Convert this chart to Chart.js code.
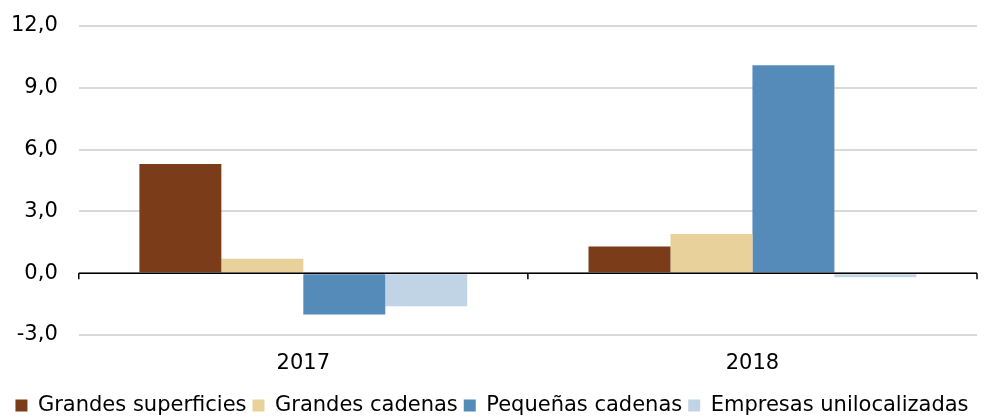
<!DOCTYPE html>
<html>
<head>
<meta charset="utf-8">
<script src="https://cdn.jsdelivr.net/npm/chart.js@4"></script>
<style>
  html, body { margin: 0; padding: 0; background: #fff; }
  #wrap { width: 991px; height: 416px; position: relative; }
</style>
</head>
<body>
<div id="wrap"><canvas id="chart"></canvas></div>
<script>
var years = ["2017", "2018"];
var grandesSuperficies = [5.3, 1.3];
var grandesCadenas = [0.7, 1.9];
var pequenasCadenas = [-2.0, 10.1];
var empresasUnilocalizadas = [-1.6, -0.2];
var yTicks = [-3, 0, 3, 6, 9, 12];

var fontFamily = "'DejaVu Sans', Verdana, sans-serif";

// x axis line drawn at zero, with tick marks between the categories
var zeroAxis = {
  id: "zeroAxis",
  afterDatasetsDraw: function (chart) {
    var ctx = chart.ctx;
    var y0 = chart.scales.y.getPixelForValue(0);
    var area = chart.chartArea;
    ctx.save();
    ctx.strokeStyle = "#000";
    ctx.lineWidth = 1.5;
    ctx.beginPath();
    ctx.moveTo(area.left, y0);
    ctx.lineTo(area.right, y0);
    var step = (area.right - area.left) / years.length;
    for (var i = 0; i <= years.length; i++) {
      var px = area.left + step * i;
      ctx.moveTo(px, y0);
      ctx.lineTo(px, y0 + 6);
    }
    ctx.stroke();
    ctx.restore();
  }
};

function ds(label, data, color) {
  return {
    label: label,
    data: data,
    backgroundColor: color,
    borderWidth: 0,
    categoryPercentage: 0.73,
    barPercentage: 1.0
  };
}

var ctx = document.getElementById("chart").getContext("2d");
new Chart(ctx, {
  type: "bar",
  data: {
    labels: years,
    datasets: [
      ds("Grandes superficies", grandesSuperficies, "#7b3c1a"),
      ds("Grandes cadenas", grandesCadenas, "#e8d19b"),
      ds("Pequeñas cadenas", pequenasCadenas, "#558bb9"),
      ds("Empresas unilocalizadas", empresasUnilocalizadas, "#c1d4e6")
    ]
  },
  options: {
    responsive: true,
    maintainAspectRatio: false,
    animation: false,
    layout: { padding: { top: 26, right: 14, left: 7, bottom: -10 } },
    plugins: {
      legend: {
        position: "bottom",
        labels: {
          color: "#000",
          font: { family: fontFamily, size: 21 },
          boxWidth: 12,
          boxHeight: 12,
          padding: 6
        }
      },
      tooltip: { enabled: false }
    },
    scales: {
      x: {
        grid: { display: false, drawTicks: false },
        border: { display: false },
        afterFit: function (axis) { axis.height = 54; },
        ticks: {
          color: "#000",
          font: { family: fontFamily, size: 21 },
          padding: 16
        }
      },
      y: {
        min: -3,
        max: 12,
        afterBuildTicks: function (axis) {
          axis.ticks = yTicks.map(function (v) { return { value: v }; });
        },
        grid: { color: "#d9d9d9", lineWidth: 2, drawTicks: true, tickLength: 17, tickColor: "rgba(0,0,0,0)" },
        border: { display: false },
        ticks: {
          color: "#000",
          font: { family: fontFamily, size: 21 },
          padding: 4,
          callback: function (v) { return v.toFixed(1).replace(".", ","); }
        }
      }
    }
  },
  plugins: [zeroAxis]
});
</script>
</body>
</html>
